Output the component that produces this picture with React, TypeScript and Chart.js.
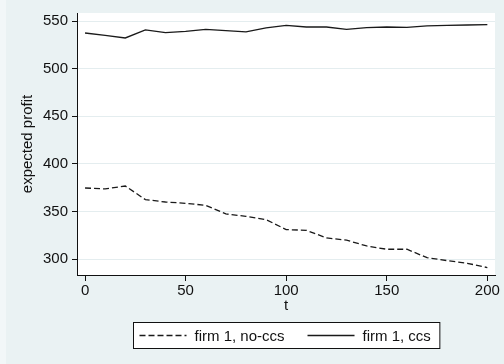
import React, { useEffect, useRef } from "react";
import { Chart, registerables } from "chart.js";

Chart.register(...registerables);

const tValues = [0, 10, 20, 30, 40, 50, 60, 70, 80, 90, 100, 110, 120, 130, 140, 150, 160, 170, 180, 190, 200];
const noCcs = [374.8, 373.8, 376.9, 362.6, 360.1, 358.7, 356.6, 347.6, 345.1, 341.6, 331.1, 330.4, 322.4, 320.0, 314.0, 310.5, 310.5, 301.7, 298.6, 295.8, 291.3];
const ccs = [537.4, 535.0, 532.2, 540.6, 537.8, 539.2, 541.3, 539.9, 538.5, 542.7, 545.5, 543.7, 543.7, 541.3, 543.0, 543.7, 543.4, 544.8, 545.5, 545.8, 546.2];
const xTicks = [0, 50, 100, 150, 200];
const yTicks = [300, 350, 400, 450, 500, 550];
const seriesLabels = ["firm 1, no-ccs", "firm 1, ccs"];
const xTitle = "t";
const yTitle = "expected profit";

const FONT = "'Liberation Sans', Arial, sans-serif";
const INK = "#111111";

const bgPlugin = {
  id: "bgPlugin",
  beforeDraw(chart: any) {
    const { ctx, width, height, chartArea } = chart;
    ctx.save();
    ctx.fillStyle = "#EAF2F3";
    ctx.fillRect(0, 0, width, height);
    ctx.fillStyle = "#F2F7F8";
    ctx.fillRect(0, 0, 6, height);
    ctx.fillStyle = "#ffffff";
    ctx.fillRect(chartArea.left, chartArea.top, chartArea.right - chartArea.left, chartArea.bottom - chartArea.top);
    ctx.restore();
  },
};

const legendPlugin = {
  id: "boxLegend",
  afterDraw(chart: any) {
    const { ctx, chartArea } = chart;
    const ds = chart.data.datasets;
    ctx.save();
    ctx.font = `15px ${FONT}`;
    const sample = 47;
    const padL = 6;
    const gapSample = 8;
    const gapItems = 23;
    const padR = 9;
    const widths = ds.map((d: any) => ctx.measureText(d.label).width);
    let total = padL + padR;
    ds.forEach((d: any, i: number) => {
      total += sample + gapSample + widths[i];
      if (i < ds.length - 1) total += gapItems;
    });
    const cx = (chartArea.left + chartArea.right) / 2;
    const x0 = Math.round(cx - total / 2) + 0.5;
    const y0 = 322.5;
    const h = 26;
    ctx.fillStyle = "#ffffff";
    ctx.fillRect(x0, y0, total, h);
    ctx.strokeStyle = INK;
    ctx.lineWidth = 1;
    ctx.setLineDash([]);
    ctx.strokeRect(x0, y0, total, h);
    let x = x0 + padL;
    const yc = y0 + h / 2;
    ds.forEach((d: any, i: number) => {
      ctx.beginPath();
      ctx.strokeStyle = d.borderColor;
      ctx.lineWidth = d.borderWidth;
      ctx.setLineDash(d.borderDash || []);
      ctx.moveTo(x, yc);
      ctx.lineTo(x + sample, yc);
      ctx.stroke();
      ctx.setLineDash([]);
      x += sample + gapSample;
      ctx.fillStyle = INK;
      ctx.textBaseline = "middle";
      ctx.textAlign = "left";
      ctx.fillText(d.label, x, yc + 1);
      x += widths[i] + gapItems;
    });
    ctx.restore();
  },
};

export default function App() {
  const ref = useRef<HTMLCanvasElement | null>(null);
  useEffect(() => {
    document.body.style.margin = "0";
    if (!ref.current) return;
    const chart = new Chart(ref.current, {
      type: "line",
      data: {
        datasets: [
          {
            label: seriesLabels[0],
            data: tValues.map((t, i) => ({ x: t, y: noCcs[i] })),
            borderColor: "#1a1a1a",
            borderWidth: 1.3,
            borderDash: [6, 3],
            pointRadius: 0,
            tension: 0,
            fill: false,
          },
          {
            label: seriesLabels[1],
            data: tValues.map((t, i) => ({ x: t, y: ccs[i] })),
            borderColor: "#1a1a1a",
            borderWidth: 1.3,
            pointRadius: 0,
            tension: 0,
            fill: false,
          },
        ],
      },
      options: {
        animation: false,
        responsive: false,
        maintainAspectRatio: false,
        layout: { padding: { left: 0, right: 9, top: 12, bottom: 49 } },
        plugins: { legend: { display: false }, tooltip: { enabled: false } },
        scales: {
          x: {
            type: "linear",
            min: -4,
            max: 203.8,
            afterBuildTicks: (s: any) => {
              s.ticks = xTicks.map((v) => ({ value: v }));
            },
            afterFit: (s: any) => {
              s.height = 40;
            },
            grid: { drawOnChartArea: false, tickLength: 6, tickColor: INK, color: INK },
            border: { display: true, color: INK, width: 1 },
            ticks: { color: INK, font: { family: FONT, size: 15 }, padding: 1, maxRotation: 0 },
            title: { display: true, text: xTitle, color: INK, font: { family: FONT, size: 15 }, padding: { top: 0, bottom: 0 } },
          },
          y: {
            type: "linear",
            min: 283.5,
            max: 558.4,
            afterBuildTicks: (s: any) => {
              s.ticks = yTicks.map((v) => ({ value: v }));
            },
            afterFit: (s: any) => {
              s.width = 77;
            },
            grid: { drawOnChartArea: true, color: "#E4EDEF", tickLength: 5, tickColor: INK, lineWidth: 1 },
            border: { display: true, color: INK, width: 1 },
            ticks: { color: INK, font: { family: FONT, size: 15 }, padding: 4 },
            title: { display: true, text: yTitle, color: INK, font: { family: FONT, size: 15 }, padding: { top: 19, bottom: 0 } },
          },
        },
      },
      plugins: [bgPlugin, legendPlugin],
    } as any);
    return () => chart.destroy();
  }, []);
  return (
    <div style={{ position: "absolute", left: 0, top: 0, width: 504, height: 364 }}>
      <canvas ref={ref} width={504} height={364} style={{ display: "block", width: 504, height: 364 }} />
    </div>
  );
}
